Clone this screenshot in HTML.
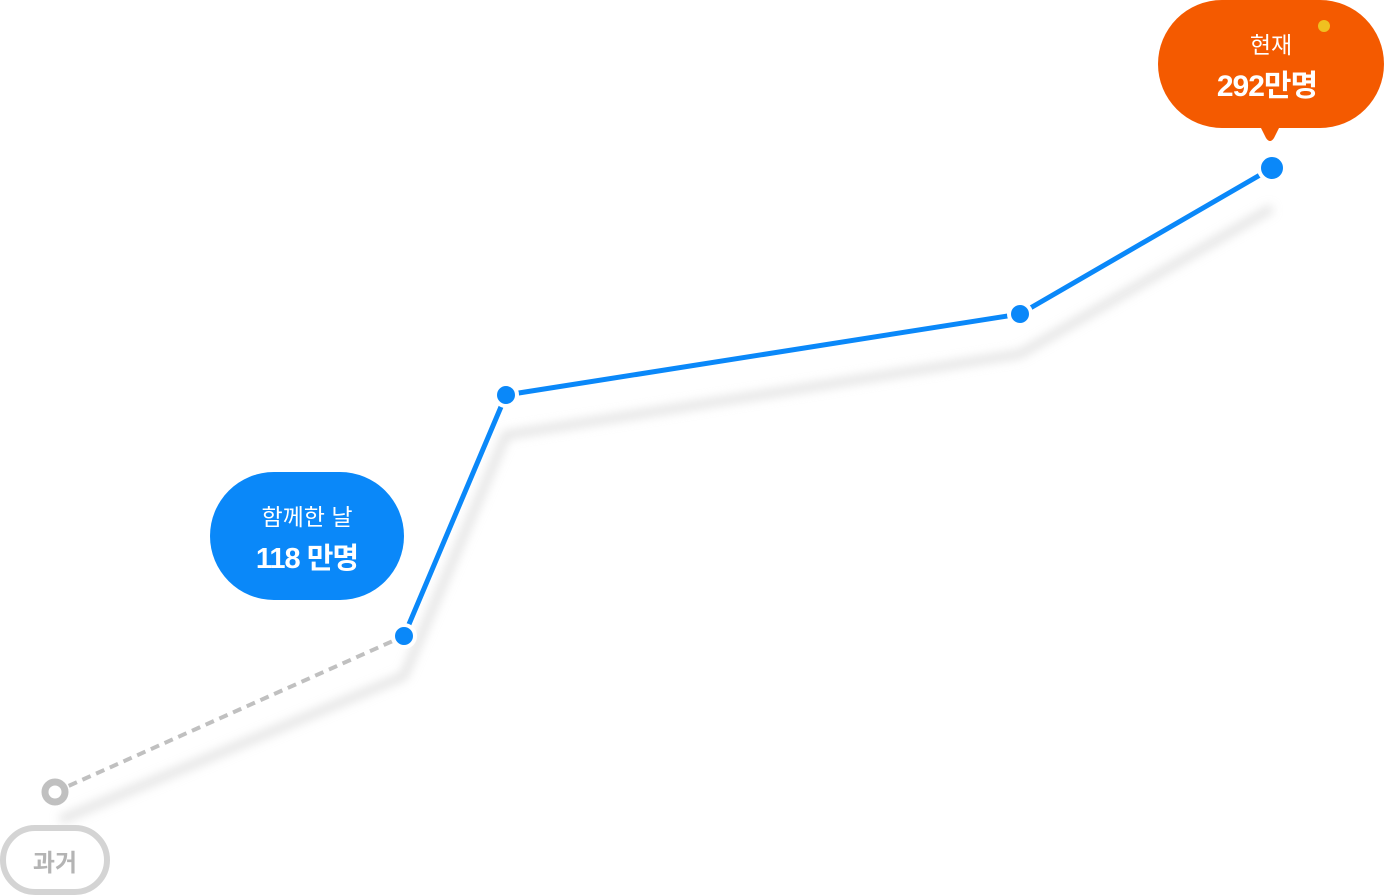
<!DOCTYPE html>
<html><head><meta charset="utf-8"><style>
body{margin:0;width:1384px;height:896px;background:#fff;overflow:hidden;position:relative;font-family:"Liberation Sans","Noto Sans CJK KR",sans-serif}
.b{position:absolute;color:#fff;text-align:center}
</style></head><body>
<svg width="1384" height="896" style="position:absolute;left:0;top:0">
<defs><filter id="bl" x="-20%" y="-20%" width="140%" height="140%"><feGaussianBlur stdDeviation="5"/></filter></defs>
<polyline points="60,820 404,676 506,435 1020,354 1272,208" fill="none" stroke="#d6d6d6" stroke-width="8" filter="url(#bl)" opacity="0.7"/>
<line x1="55" y1="792" x2="404" y2="636" stroke="#c0c0c0" stroke-width="4" stroke-dasharray="9,6"/>
<polyline points="404,636 506,395 1020,314 1272,168" fill="none" stroke="#0a88f9" stroke-width="5" stroke-linejoin="round"/>
<circle cx="55" cy="792" r="13" fill="#fff"/>
<circle cx="55" cy="792" r="10" fill="none" stroke="#c0c0c0" stroke-width="7"/>
<g fill="#0a88f9" stroke="#fff" stroke-width="4">
<circle cx="404" cy="636" r="11"/><circle cx="506" cy="395" r="11"/><circle cx="1020" cy="314" r="11"/><circle cx="1272" cy="168" r="13"/>
</g>
<rect x="1158" y="0" width="226" height="128" rx="64" fill="#f45a00"/>
<path d="M1260,126 L1266,138 Q1270,144 1274,138 L1280,126Z" fill="#f45a00"/>
<circle cx="1324" cy="26" r="6" fill="#f0c020"/>
<rect x="210" y="472" width="194" height="128" rx="64" fill="#0a88f9"/>
<rect x="3" y="828" width="104" height="64" rx="32" fill="#fff" stroke="#d4d4d4" stroke-width="6"/>
</svg>
<div class="b" style="left:1158px;top:26px;width:226px;font-size:23px">현재</div>
<div class="b" style="left:1154px;top:61px;width:226px;font-size:30px;font-weight:bold;letter-spacing:-1px">292만명</div>
<div class="b" style="left:210px;top:498px;width:194px;font-size:23px">함께한 날</div>
<div class="b" style="left:210px;top:535px;width:194px;font-size:29px;font-weight:bold;letter-spacing:-1px">118 만명</div>
<div class="b" style="left:3px;top:843px;width:104px;font-size:24px;font-weight:bold;color:#b4b4b4">과거</div>
</body></html>
